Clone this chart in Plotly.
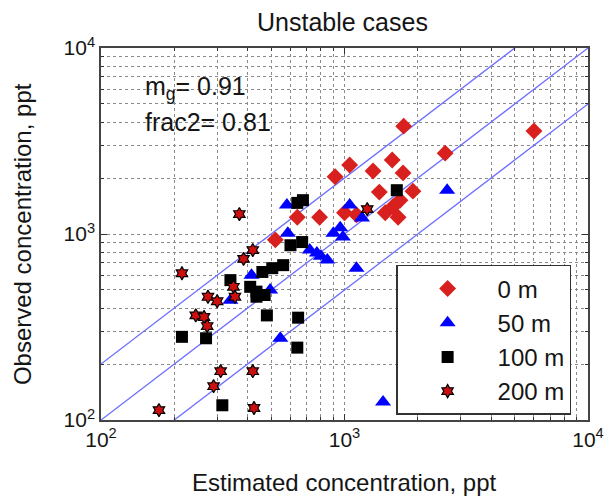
import plotly.graph_objects as go

# ---- data ----
est_0m = [6000, 2590, 1750, 915, 1050, 1310, 1570, 1740, 1910, 1390, 1690, 1470, 1660, 1000, 790, 640, 520, 1580, 1120]
obs_0m = [3580, 2720, 3800, 2030, 2350, 2180, 2500, 2130, 1700, 1680, 1520, 1300, 1230, 1300, 1230, 1230, 930, 1400, 1270]

est_50m = [2640, 1050, 1180, 960, 900, 985, 585, 580, 770, 850, 720, 1120, 545, 1440, 415, 495, 340, 800]
obs_50m = [1720, 1430, 1220, 1080, 1010, 965, 1010, 1430, 790, 725, 820, 655, 275, 125, 600, 500, 440, 760]

est_100m = [1640, 640, 675, 600, 670, 560, 505, 460, 340, 410, 435, 480, 645, 640, 215, 270, 315, 435, 470]
obs_100m = [1720, 1470, 1520, 870, 905, 680, 655, 625, 565, 520, 490, 365, 355, 245, 280, 275, 120, 460, 470]

est_200m = [370, 420, 385, 350, 355, 275, 300, 215, 245, 265, 273, 310, 420, 290, 173, 425, 1240]
obs_200m = [1280, 820, 735, 520, 460, 460, 435, 615, 365, 358, 320, 183, 183, 152, 113, 116, 1360]

series_names = ["0 m", "50 m", "100 m", "200 m"]

line_ratios = [2, 1, 0.5]
line_x = [100, 10000]

x_ticks = [100, 1000, 10000]
x_ticktext = ["10<sup>2</sup>", "10<sup>3</sup>", "10<sup>4</sup>"]
minor_ticks = [m * 10 ** e for e in (2, 3) for m in range(2, 10)]

title_text = "Unstable cases"
x_title = "Estimated concentration, ppt"
y_title = "Observed concentration, ppt"
stats_text = ["m<sub>g</sub>= 0.91", "frac2= 0.81"]

FONT = "Liberation Sans, Arial, sans-serif"
TXT = "#151515"

fig = go.Figure()

for r in line_ratios:
    fig.add_trace(go.Scatter(x=line_x, y=[v * r for v in line_x], mode="lines",
                             line=dict(color="#6f6fff", width=1.3),
                             showlegend=False, hoverinfo="skip"))

styles = [
    dict(symbol="diamond", size=13, color="#d8201e", line=dict(width=0)),
    dict(symbol="triangle-up", size=14, color="#0000ff", line=dict(width=0)),
    dict(symbol="square", size=12, color="#000000", line=dict(width=0)),
    dict(symbol="hexagram", size=10, color="#cc1010", line=dict(width=1.2, color="#000000")),
]
data = [(est_0m, obs_0m), (est_50m, obs_50m), (est_100m, obs_100m), (est_200m, obs_200m)]

for name, (xs, ys), mk in zip(series_names, data, styles):
    fig.add_trace(go.Scatter(x=xs, y=ys, mode="markers", name=name, marker=mk,
                             showlegend=True))

grid_col = "#8a8a8a"
axis_common = dict(
    type="log", range=[2, 4], automargin=False,
    tickvals=x_ticks, ticktext=x_ticktext,
    ticks="inside", ticklen=6, tickcolor="#333",
    showline=True, linecolor="#444", linewidth=1.5, mirror="allticks",
    showgrid=True, gridcolor=grid_col, griddash="dot", gridwidth=1,
    zeroline=False,
    tickfont=dict(family=FONT, size=21, color=TXT),
    minor=dict(tickmode="array", tickvals=minor_ticks, ticks="inside", ticklen=3,
               tickcolor="#333", showgrid=True, gridcolor=grid_col, griddash="dot",
               gridwidth=1),
)
fig.update_xaxes(**axis_common)
fig.update_yaxes(**axis_common)

# axis titles as annotations (exact placement relative to the plot area)
fig.add_annotation(x=0.5, y=-0.167, xref="x domain", yref="y domain", text=x_title,
                   showarrow=False, xanchor="center", yanchor="middle",
                   font=dict(family=FONT, size=24, color=TXT))
fig.add_annotation(x=-0.162, y=0.5, xref="x domain", yref="y domain", text=y_title,
                   showarrow=False, xanchor="center", yanchor="middle", textangle=-90,
                   font=dict(family=FONT, size=24, color=TXT))

fig.add_annotation(x=0.086, y=0.893, xref="x domain", yref="y domain", text=stats_text[0],
                   showarrow=False, xanchor="left", yanchor="middle",
                   font=dict(family=FONT, size=25, color=TXT))
fig.add_annotation(x=0.086, y=0.801, xref="x domain", yref="y domain", text=stats_text[1],
                   showarrow=False, xanchor="left", yanchor="middle",
                   font=dict(family=FONT, size=25, color=TXT))

# page body has an 8px margin, so the figure is sized/offset to compensate
fig.update_layout(
    width=607, height=490,
    margin=dict(l=93, r=27, t=40, b=78),
    paper_bgcolor="white", plot_bgcolor="white",
    showlegend=True,
    legend=dict(x=0.606, y=0.417, xanchor="left", yanchor="top",
                bgcolor="white", bordercolor="#333", borderwidth=1.5,
                font=dict(family=FONT, size=24, color=TXT),
                itemwidth=90, tracegroupgap=0),
    title=dict(text=title_text, x=0.551, xanchor="center", y=0.97, yanchor="middle",
               font=dict(family=FONT, size=25, color=TXT)),
)

fig.write_html("out.html")
